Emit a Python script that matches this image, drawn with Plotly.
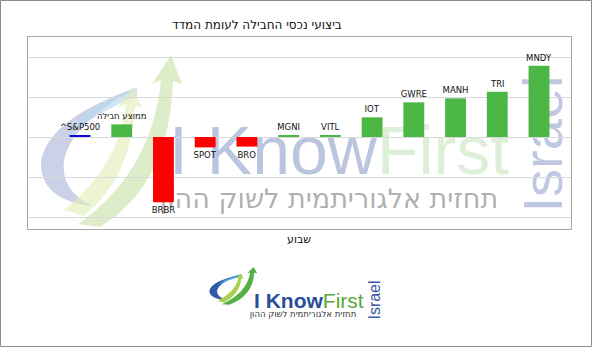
import plotly.graph_objects as go

# ---------------- data ----------------
categories = ['^S&P500', 'ממוצע חבילה', 'BRBR', 'SPOT', 'BRO', 'MGNI', 'VITL',
              'IOT', 'GWRE', 'MANH', 'TRI', 'MNDY']
returns = [0.25, 1.58, -8.17, -1.3, -1.2, 0.15, 0.15, 2.46, 4.33, 4.83, 5.66, 8.9]
bar_colors = ['#0a0ad2', '#4cb744', '#ff0000', '#ff0000', '#ff0000', '#4cb744', '#4cb744',
              '#4cb744', '#4cb744', '#4cb744', '#4cb744', '#4cb744']
title_text = 'ביצועי נכסי החבילה לעומת המדד'
xaxis_title = 'שבוע'
slogan = 'תחזית אלגוריתמית לשוק ההון'

W, H = 592, 347
L, R, T, B = 28, 21, 37, 118
PW, PH = W - L - R, H - T - B


def X(px):
    return (px - L) / PW


def Y(py):
    return (T + PH - py) / PH


def path(cmds):
    out = []
    for c in cmds:
        if isinstance(c, str):
            out.append(c)
        else:
            out.append(f"{X(c[0]):.4f},{Y(c[1]):.4f}")
    return ' '.join(out)


def swoosh(ox, oy, sx, sy):
    def p(x, y):
        return (ox + (x - 40) * sx, oy + (y - 55) * sy)
    crescent = ['M', p(137, 88), 'Q', p(48, 118), p(41, 162), 'Q', p(40, 200), p(92, 206),
                'Q', p(60, 190), p(64, 160), 'Q', p(72, 122), p(137, 88), 'Z']
    inner = ['M', p(137, 88), 'Q', p(92, 100), p(64, 138), 'Q', p(98, 112), p(137, 96), 'Z']
    arrow1 = ['M', p(78, 224), 'Q', p(152, 172), p(161, 80), 'L', p(152, 84), 'L', p(171, 55),
              'L', p(182, 84), 'L', p(173, 81), 'Q', p(170, 184), p(100, 227), 'Z']
    arrow2 = ['M', p(64, 210), 'Q', p(120, 165), p(126, 104), 'L', p(118, 108), 'L', p(133, 86),
              'L', p(142, 108), 'L', p(135, 106), 'Q', p(132, 176), p(84, 216), 'Z']
    return crescent, inner, arrow1, arrow2


fig = go.Figure()
fig.add_trace(go.Bar(
    x=categories, y=returns, marker=dict(color=bar_colors, line=dict(width=0)),
    width=0.5, text=categories, textposition='outside', constraintext='none',
    textfont=dict(family='DejaVu Sans', size=8.5, color='#111111'),
    cliponaxis=False, hoverinfo='skip'))

shapes = []
# watermark swoosh (behind)
wc, wi, wa1, wa2 = swoosh(40, 55, 1.0, 1.0)
for pth, col in [(wc, 'rgba(160,172,212,0.55)'), (wi, 'rgba(185,218,240,0.65)'),
                 (wa2, 'rgba(225,236,180,0.6)'), (wa1, 'rgba(200,225,165,0.6)')]:
    shapes.append(dict(type='path', xref='paper', yref='paper', path=path(pth),
                       fillcolor=col, line=dict(width=0), layer='below'))


def label_box(x0, y0, x1, y1, text, size, color, family, pos='middle left', angle=0, layer='below'):
    return dict(type='rect', xref='paper', yref='paper', x0=X(x0), x1=X(x1), y0=Y(y1), y1=Y(y0),
                line=dict(width=0), fillcolor='rgba(0,0,0,0)', layer=layer,
                label=dict(text=text, textposition=pos, padding=0, textangle=angle,
                           font=dict(size=size, color=color, family=family)))


sans = 'Liberation Sans'
shapes.append(label_box(166, 106, 520, 182,
                        "I Know<span style='fill:rgba(200,228,188,0.8)'>First</span>",
                        68, 'rgba(165,178,214,0.75)', sans))
shapes.append(label_box(148, 180, 510, 212, slogan, 27, 'rgba(150,150,150,0.75)', 'DejaVu Sans', pos='middle center'))
shapes.append(label_box(515, 83, 560, 205, 'Israel', 56, 'rgba(170,182,214,0.75)', sans, pos='middle center', angle=-90))

# bottom logo
bc, bi, ba1, ba2 = swoosh(209, 267, 0.34, 0.22)
for pth, col in [(bc, '#2f5aa8'), (bi, '#4aa6dc'), (ba2, '#a9cf4f'), (ba1, '#55b046')]:
    shapes.append(dict(type='path', xref='paper', yref='paper', path=path(pth),
                       fillcolor=col, line=dict(width=0), layer='above'))
shapes.append(label_box(251, 286, 380, 310,
                        "<b>I Know</b><span style='fill:#58a83c'>First</span>",
                        21, '#284e9a', sans, layer='above'))
shapes.append(label_box(240, 308, 366, 318, slogan, 8.5, '#333333', 'DejaVu Sans', pos='middle center', layer='above'))
shapes.append(label_box(362, 278, 382, 322, 'Israel', 16, '#3b5ba5', sans, pos='middle center', angle=-90, layer='above'))

# outer border
shapes.append(dict(type='rect', xref='paper', yref='paper', x0=X(0.5), x1=X(W - 0.5),
                   y0=Y(H - 0.5), y1=Y(0.5), line=dict(color='#8c8c8c', width=1),
                   fillcolor='rgba(0,0,0,0)', layer='above'))

annotations = [
    dict(text=title_text, x=X(257), y=Y(25), xref='paper', yref='paper', showarrow=False,
         xanchor='center', yanchor='middle', font=dict(family='DejaVu Sans', size=12, color='#111111')),
    dict(text=xaxis_title, x=X(299), y=Y(239), xref='paper', yref='paper', showarrow=False,
         xanchor='center', yanchor='middle', font=dict(family='DejaVu Sans', size=11, color='#111111')),
]

n = len(categories)
fig.update_layout(
    width=W, height=H, margin=dict(l=L, r=R, t=T, b=B, pad=0),
    paper_bgcolor='white', plot_bgcolor='white', showlegend=False,
    shapes=shapes, annotations=annotations,
    xaxis=dict(type='category', range=[-1.246, n - 1 + 0.767], showticklabels=False,
               showgrid=False, showline=True, mirror=True, linecolor='#a8a8a8', linewidth=1,
               zeroline=False, ticks=''),
    yaxis=dict(range=[-11.5, 12.5], dtick=5, tick0=0, showticklabels=False, showgrid=True,
               gridcolor='#d9d9d9', gridwidth=1, zeroline=True, zerolinecolor='#d9d9d9',
               zerolinewidth=1, showline=True, mirror=True, linecolor='#a8a8a8', linewidth=1,
               ticks=''),
)

fig.write_html('out.html')
